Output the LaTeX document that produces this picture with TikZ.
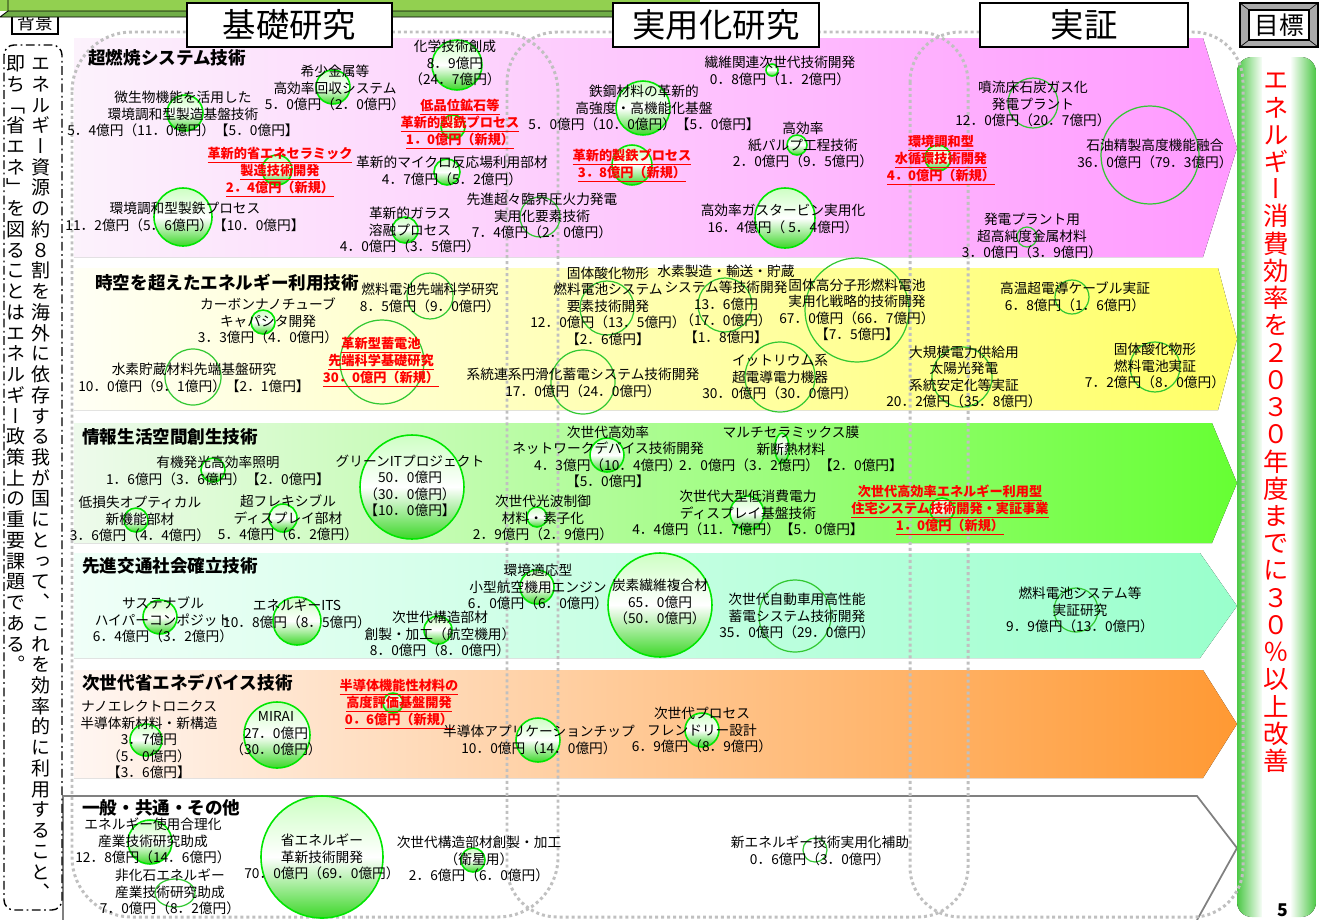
\documentclass[tikz,border=0pt]{standalone}
\usepackage{fontspec}
\setmainfont{Noto Sans CJK JP}
\newfontfamily\vertfont[RawFeature=+vert]{Noto Sans CJK JP}
\usepackage{tikz}
\usetikzlibrary{positioning}

\definecolor{pinkL}{RGB}{252,242,252}
\definecolor{pinkR}{RGB}{255,153,255}
\definecolor{yelL}{RGB}{255,255,245}
\definecolor{yelR}{RGB}{255,255,102}
\definecolor{grnL}{RGB}{238,250,236}
\definecolor{grnR}{RGB}{102,255,51}
\definecolor{mintL}{RGB}{240,255,248}
\definecolor{mintR}{RGB}{153,255,204}
\definecolor{oraL}{RGB}{255,246,242}
\definecolor{oraR}{RGB}{255,153,51}
\definecolor{goalgreen}{RGB}{76,200,70}
\definecolor{zonegray}{RGB}{192,192,192}
\definecolor{ballline}{RGB}{0,230,0}
\definecolor{balltop}{RGB}{205,255,195}
\definecolor{ballbot}{RGB}{60,215,40}
\definecolor{ringline}{RGB}{50,200,50}
\definecolor{barlight}{RGB}{146,208,80}
\definecolor{bardark}{RGB}{112,173,71}
\definecolor{btngray}{RGB}{170,170,170}
\definecolor{outlinegray}{RGB}{128,128,128}

\newcommand\lblsize{\fontsize{7.8pt}{9.4pt}\selectfont}
\newcommand\newsize{\fontsize{7.5pt}{9.6pt}\selectfont}
\newcommand\catsize{\fontsize{10pt}{12pt}\selectfont}
\newcommand\headsize{\fontsize{19pt}{22pt}\selectfont}
% tategaki: one character per line
\newcommand\tate[2]{\vbox{\baselineskip=#1\lineskiplimit=-50pt\lineskip=0pt\tateA#2\relax}}
\def\tateA#1{\ifx\relax#1\else\hbox to 1em{\vrule height .88em depth .12em width 0pt\hss#1\hss}\expandafter\tateA\fi}

\begin{document}
\begin{tikzpicture}[
        x=0.02cm, y=-0.02cm,
        lbl/.style={font=\lblsize, align=center, inner sep=0pt},
        newlbl/.style={font=\bfseries\newsize, text=red, align=center, inner sep=0pt},
        cat/.style={font=\bfseries\catsize, anchor=west, inner sep=0pt},
        head/.style={draw, line width=1pt, fill=white, font=\headsize, minimum height=0.88cm, inner sep=0pt},
        ball/.style={draw=ballline, line width=0.9pt, top color=balltop, bottom color=ballbot, middle color=white},
        ring/.style={draw=ringline, line width=0.7pt},
        zone/.style={draw=zonegray, line width=1.7pt, dash pattern=on 1.7pt off 1.7pt},
        tatetext/.style={anchor=north, inner sep=0pt}
      ]
        \useasboundingbox (0,0) rectangle (1323,920);

        % Bands (arrows to the goal)
        \fill[left color=pinkL, right color=pinkR] (74,38) -- (1203,38) -- (1237,148) -- (1203,257) -- (74,257) -- cycle;
        \fill[left color=yelL, right color=yelR] (74,268) -- (1218,268) -- (1237,339) -- (1218,410) -- (74,410) -- cycle;
        \fill[left color=grnL, right color=grnR] (74,423) -- (1212,423) -- (1237,483) -- (1212,543) -- (74,543) -- cycle;
        \fill[left color=mintL, right color=mintR] (74,553) -- (1200,553) -- (1237,606) -- (1200,658) -- (74,658) -- cycle;
        \fill[left color=oraL, right color=oraR] (74,670) -- (1203,670) -- (1237,724) -- (1203,778) -- (74,778) -- cycle;
        \draw[outlinegray, line width=1pt] (63,920) -- (63,796) -- (1197,796) -- (1237,848) -- (1197,920);

        % Goal bar
        \begin{scope}
          \clip[rounded corners=0.3cm] (1237,57) rectangle (1316,917);
          \fill[left color=goalgreen, right color=white] (1237,57) rectangle (1263,917);
          \fill[white] (1262,57) rectangle (1291,917);
          \fill[left color=white, right color=goalgreen] (1290,57) rectangle (1316,917);
        \end{scope}
        \node[tatetext, text=red, font=\vertfont\fontsize{14.5pt}{15.5pt}\selectfont] (goalText) at (1276,67)
            {\tate{15.5pt}{エネルギー消費効率を２０３０年度までに３０％以上改善}};
        \node[font=\bfseries\fontsize{10pt}{12pt}\selectfont, inner sep=0pt] (pageNo) at (1283,910) {5};

        % Dotted zones
        \draw[zone, rounded corners=1.2cm] (72,32) rectangle (558,917);
        \draw[zone, rounded corners=1.0cm] (507,32) rectangle (968,917);
        \draw[zone, rounded corners=1.0cm] (910,32) rectangle (1243,917);

        % Background text
        \draw[line width=0.8pt, dash pattern=on 5pt off 2pt on 1pt off 2pt, rounded corners=0.2cm] (4,45) rectangle (62,910);
        \node[tatetext, font=\vertfont\fontsize{10.8pt}{11.8pt}\selectfont] (bgRight) at (41,53.5)
            {\tate{11.8pt}{エネルギー資源の約８割を海外に依存する我が国にとって、これを効率的に利用すること、}};
        \node[tatetext, font=\vertfont\fontsize{10.8pt}{11.8pt}\selectfont] (bgLeft) at (16,53.5)
            {\tate{11.8pt}{即ち「省エネ」を図ることはエネルギー政策上の重要課題である。}};

        % Header row
        \node[draw, fill=white, line width=0.8pt, minimum width=0.92cm, minimum height=0.44cm, inner sep=0pt,
              font=\fontsize{10pt}{12pt}\selectfont] (bgHead) at (35,23) {背景};
        \fill[barlight] (0,0) rectangle (700,11);
        \fill[bardark] (0,17) -- (8,11) -- (700,11) -- (700,17) -- cycle;
        \draw[line width=0.5pt] (0,17) -- (8,11) -- (700,11) (0,17) -- (700,17) (8,11) -- (8,0);
        \node[head, minimum width=4.1cm] (basic) at (289.5,25) {基礎研究};
        \node[head, minimum width=4.12cm] (applied) at (716,25) {実用化研究};
        \node[head, minimum width=4.16cm] (demo) at (1084,25) {実証};
        \draw[fill=btngray, line width=0.6pt] (1240,3) rectangle (1318,47);
        \draw[line width=0.4pt] (1240,3) -- (1249,10) (1318,3) -- (1309,10) (1240,47) -- (1249,40) (1318,47) -- (1309,40);
        \node[draw, fill=white, line width=0.6pt, minimum width=1.2cm, minimum height=0.6cm, inner sep=0pt,
              font=\fontsize{14pt}{16pt}\selectfont] (goalHead) at (1279,25) {目標};

        % Budget circles
        \draw[ball] (185,113) circle [radius=18];
        \draw[ball] (183,217) circle [radius=29];
        \draw[ball] (277,170) circle [radius=15];
        \draw[ball] (333,87) circle [radius=17];
        \draw[ball] (457,65) circle [radius=25];
        \draw[ball] (453,127) circle [radius=12];
        \draw[ball] (447,172) circle [radius=13];
        \draw[ball] (405,230) circle [radius=13];
        \draw[ball] (643,108) circle [radius=27];
        \draw[ball] (632,165) circle [radius=20];
        \draw[ball] (772,70) circle [radius=6];
        \draw[ball] (797,145) circle [radius=10];
        \draw[ball] (785,218) circle [radius=30];
        \draw[ball] (938,158) circle [radius=13];
        \draw[ring] (540,217) circle [radius=20];
        \draw[ring] (1033,103) circle [radius=25];
        \draw[ring] (1150,155) circle [radius=49];
        \draw[ring] (1027,237) circle [radius=10];

        \draw[ball] (263,322) circle [radius=12];
        \draw[ring] (430,296) circle [radius=23];
        \draw[ring] (193,377) circle [radius=28];
        \draw[ring] (382,362) circle [radius=42];
        \draw[ring] (607,308) circle [radius=27];
        \draw[ring] (725,305) circle [radius=27];
        \draw[ring] (857,310) circle [radius=52];
        \draw[ring] (583,382) circle [radius=32];
        \draw[ring] (780,377) circle [radius=35];
        \draw[ring] (962,377) circle [radius=30];
        \draw[ring] (1072,297) circle [radius=17];
        \draw[ring] (1155,367) circle [radius=25];

        \draw[ball] (213,470) circle [radius=12];
        \draw[ball] (136,520) circle [radius=12];
        \draw[ball] (283,518) circle [radius=14];
        \draw[ball] (412,487) circle [radius=52];
        \draw[ball] (537,517) circle [radius=10];
        \draw[ball] (607,455) circle [radius=17];
        \draw[ball] (782,448) ellipse [x radius=7, y radius=15];
        \draw[ball] (747,513) circle [radius=17];
        \draw[ball] (942,510) circle [radius=12];

        \draw[ball] (160,617) circle [radius=17];
        \draw[ball] (297,621) circle [radius=24];
        \draw[ball] (438,630) circle [radius=14];
        \draw[ball] (537,587) circle [radius=17];
        \draw[ball] (660,605) circle [radius=52];
        \draw[ring] (795,616) circle [radius=36];
        \draw[ring] (1076,610) circle [radius=22];

        \draw[ball] (146,740) circle [radius=16];
        \draw[ball] (277,735) circle [radius=33];
        \draw[ball] (393,703) circle [radius=10];
        \draw[ball] (538,740) circle [radius=22];
        \draw[ball] (702,730) circle [radius=17];

        \draw[ball] (150,842) circle [radius=22];
        \draw[ring] (175,893) ellipse [x radius=20, y radius=14];
        \draw[ball] (322,857) circle [radius=61];
        \draw[ball] (473,860) circle [radius=12];
        \draw[ring] (815,850) circle [radius=12];

        % Band 1
        \node[cat] (catCombust) at (88,58) {超燃焼システム技術};
        \node[lbl] (microbe) at (183,114) {微生物機能を活用した\\環境調和型製造基盤技術\\5．4億円（11．0億円）【5．0億円】};
        \node[lbl] (ironEnv) at (185,217) {環境調和型製鉄プロセス\\11．2億円（5．6億円）【10．0億円】};
        \node[newlbl] (ceramic) at (280,172) {\underline{革新的省エネセラミック}\\\underline{製造技術開発}\\\underline{2．4億円（新規）}};
        \node[lbl] (rareMetal) at (335,88) {希少金属等\\高効率回収システム\\5．0億円（2．0億円）};
        \node[lbl] (chemTech) at (455,63) {化学技術創成\\8．9億円\\（24．7億円）};
        \node[newlbl] (lowOre) at (460,124) {\underline{低品位鉱石等}\\\underline{革新的製銑プロセス}\\\underline{1．0億円（新規）}};
        \node[lbl] (microReact) at (452,171) {革新的マイクロ反応場利用部材\\4．7億円（5．2億円）};
        \node[lbl] (glass) at (410,230) {革新的ガラス\\溶融プロセス\\4．0億円（3．5億円）};
        \node[lbl] (usc) at (542,216) {先進超々臨界圧火力発電\\実用化要素技術\\7．4億円（2．0億円）};
        \node[lbl] (steelMat) at (644,108) {鉄鋼材料の革新的\\高強度・高機能化基盤\\5．0億円（10．0億円）【5．0億円】};
        \node[newlbl] (ironMaking) at (632,166) {\underline{革新的製鉄プロセス}\\\underline{3．8億円（新規）}};
        \node[lbl] (fiber) at (780,71) {繊維関連次世代技術開発\\0．8億円（1．2億円）};
        \node[lbl] (pulp) at (803,145) {高効率\\紙パルプ工程技術\\2．0億円（9．5億円）};
        \node[lbl] (gasTurbine) at (783,219) {高効率ガスタービン実用化\\16．4億円（ 5．4億円）};
        \node[newlbl] (waterCycle) at (941,160) {\underline{環境調和型}\\\underline{水循環技術開発}\\\underline{4．0億円（新規）}};
        \node[lbl] (coalGas) at (1033,104) {噴流床石炭ガス化\\発電プラント\\12．0億円（20．7億円）};
        \node[lbl] (refinery) at (1155,154) {石油精製高度機能融合\\36．0億円（79．3億円）};
        \node[lbl] (pureMetal) at (1032,236) {発電プラント用\\超高純度金属材料\\3．0億円（3．9億円）};

        % Band 2
        \node[cat] (catSpace) at (95,283) {時空を超えたエネルギー利用技術};
        \node[lbl] (fcScience) at (430,298) {燃料電池先端科学研究\\8．5億円（9．0億円）};
        \node[lbl] (cntCap) at (268,321) {カーボンナノチューブ\\キャパシタ開発\\3．3億円（4．0億円）};
        \node[lbl] (h2Storage) at (194,378) {水素貯蔵材料先端基盤研究\\10．0億円（9．1億円）【2．1億円】};
        \node[newlbl] (battery) at (381,362) {\underline{革新型蓄電池}\\\underline{先端科学基礎研究}\\\underline{30．0億円（新規）}};
        \node[lbl] (sofcSys) at (608,306) {固体酸化物形\\燃料電池システム\\要素技術開発\\12．0億円（13．5億円）\\【2．6億円】};
        \node[lbl] (h2Supply) at (726,304) {水素製造・輸送・貯蔵\\システム等技術開発\\13．6億円\\（17．0億円）\\【1．8億円】};
        \node[lbl] (pefc) at (857,310) {固体高分子形燃料電池\\実用化戦略的技術開発\\67．0億円（66．7億円）\\【7．5億円】};
        \node[lbl] (gridStore) at (583,383) {系統連系円滑化蓄電システム技術開発\\17．0億円（24．0億円）};
        \node[lbl] (yttrium) at (780,377) {イットリウム系\\超電導電力機器\\30．0億円（30．0億円）};
        \node[lbl] (solarGrid) at (964,377) {大規模電力供給用\\太陽光発電\\系統安定化等実証\\20．2億円（35．8億円）};
        \node[lbl] (hts) at (1075,297) {高温超電導ケーブル実証\\6．8億円（1．6億円）};
        \node[lbl] (sofcDemo) at (1155,366) {固体酸化物形\\燃料電池実証\\7．2億円（8．0億円）};

        % Band 3
        \node[cat] (catInfo) at (82,437) {情報生活空間創生技術};
        \node[lbl] (oled) at (218,471) {有機発光高効率照明\\1．6億円（3．6億円）【2．0億円】};
        \node[lbl] (optical) at (140,519) {低損失オプティカル\\新機能部材\\3．6億円（4．4億円）};
        \node[lbl] (flexDisp) at (288,518) {超フレキシブル\\ディスプレイ部材\\5．4億円（6．2億円）};
        \node[lbl] (greenIT) at (410,486) {グリーンITプロジェクト\\50．0億円\\（30．0億円）\\【10．0億円】};
        \node[lbl] (photonic) at (543,518) {次世代光波制御\\材料・素子化\\2．9億円（2．9億円）};
        \node[lbl] (netDevice) at (608,457) {次世代高効率\\ネットワークデバイス技術開発\\4．3億円（10．4億円）\\【5．0億円】};
        \node[lbl] (multiCer) at (791,449) {マルチセラミックス膜\\新断熱材料\\2．0億円（3．2億円）【2．0億円】};
        \node[lbl] (bigDisp) at (748,513) {次世代大型低消費電力\\ディスプレイ基盤技術\\4．4億円（11．7億円）【5．0億円】};
        \node[newlbl] (house) at (950,510) {\underline{次世代高効率エネルギー利用型}\\\underline{住宅システム技術開発・実証事業}\\\underline{1．0億円（新規）}};

        % Band 4
        \node[cat] (catTraffic) at (82,566) {先進交通社会確立技術};
        \node[lbl] (composite) at (163,620) {サステナブル\\ハイパーコンポジット\\6．4億円（3．2億円）};
        \node[lbl] (its) at (297,614) {エネルギーITS\\10．8億円（8．5億円）};
        \node[lbl] (aeroPart) at (440,634) {次世代構造部材\\創製・加工（航空機用）\\8．0億円（8．0億円）};
        \node[lbl] (aeroEngine) at (538,587) {環境適応型\\小型航空機用エンジン\\6．0億円（6．0億円）};
        \node[lbl] (carbonFib) at (660,602) {炭素繊維複合材\\65．0億円\\（50．0億円）};
        \node[lbl] (carBattery) at (797,616) {次世代自動車用高性能\\蓄電システム技術開発\\35．0億円（29．0億円）};
        \node[lbl] (fcDemo) at (1080,610) {燃料電池システム等\\実証研究\\9．9億円（13．0億円）};

        % Band 5
        \node[cat] (catDevice) at (82,683) {次世代省エネデバイス技術};
        \node[lbl] (nanoElec) at (149,740) {ナノエレクトロニクス\\半導体新材料・新構造\\3．7億円\\（5．0億円）\\【3．6億円】};
        \node[lbl] (mirai) at (276,734) {MIRAI\\27．0億円\\（30．0億円）};
        \node[newlbl] (semiEval) at (399,704) {\underline{半導体機能性材料の}\\\underline{高度評価基盤開発}\\\underline{0．6億円（新規）}};
        \node[lbl] (appChip) at (539,740) {半導体アプリケーションチップ\\10．0億円（14．0億円）};
        \node[lbl] (dfm) at (702,730) {次世代プロセス\\フレンドリー設計\\6．9億円（8．9億円）};

        % Band 6
        \node[cat] (catCommon) at (82,808) {一般・共通・その他};
        \node[lbl] (rationalUse) at (153,841) {エネルギー使用合理化\\産業技術研究助成\\12．8億円（14．6億円）};
        \node[lbl] (nonFossil) at (170,892) {非化石エネルギー\\産業技術研究助成\\7．0億円（8．2億円）};
        \node[lbl] (saveInnov) at (322,857) {省エネルギー\\革新技術開発\\70．0億円（69．0億円）};
        \node[lbl] (satellite) at (479,859) {次世代構造部材創製・加工\\（衛星用）\\2．6億円（6．0億円）};
        \node[lbl] (newEnergy) at (820,851) {新エネルギー技術実用化補助\\0．6億円（3．0億円）};
    \end{tikzpicture}
\end{document}
